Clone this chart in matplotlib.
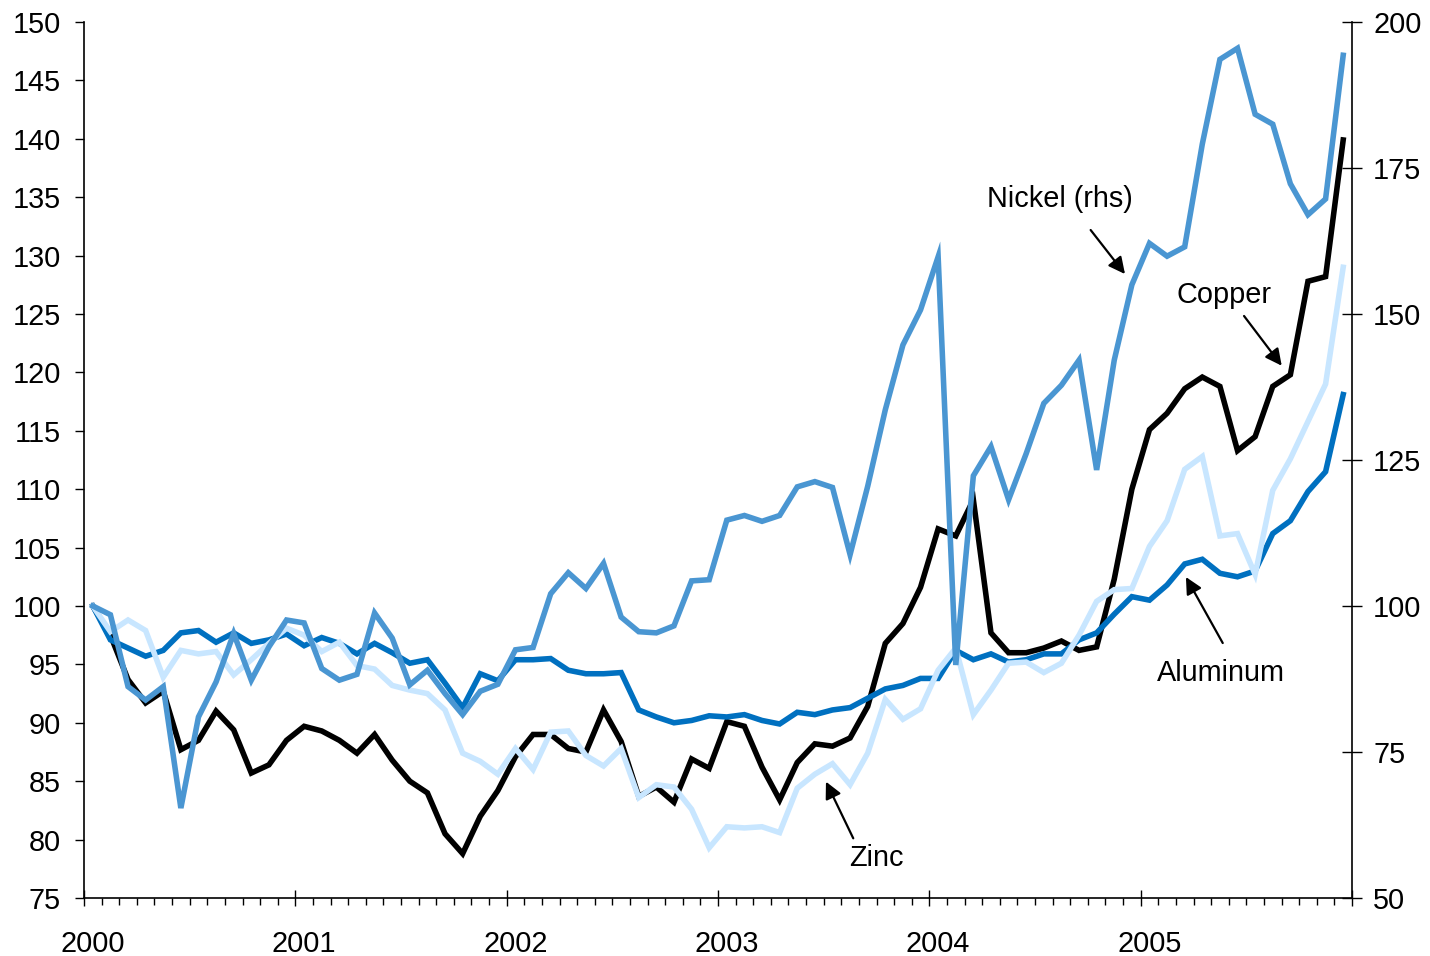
import numpy as np
import matplotlib
matplotlib.use("Agg")
import matplotlib.pyplot as plt
from matplotlib.ticker import MultipleLocator, FixedLocator, NullFormatter

plt.rcParams["font.family"] = ["Liberation Sans", "DejaVu Sans"]

# Monthly metal price indices, Jan 2000 = 100 (Nickel on the right-hand scale)
years = ["2000", "2001", "2002", "2003", "2004", "2005"]

copper = [
    100.0, 97.5, 93.7, 91.7, 92.7, 87.7, 88.5, 91.0, 89.4, 85.7, 86.4, 88.5,
    89.7, 89.3, 88.5, 87.4, 89.0, 86.8, 85.0, 84.0, 80.5, 78.8, 82.0, 84.2,
    87.1, 89.0, 89.0, 87.8, 87.5, 91.1, 88.4, 83.7, 84.5, 83.2, 86.9, 86.1,
    90.1, 89.7, 86.2, 83.4, 86.6, 88.2, 88.0, 88.7, 91.4, 96.8, 98.5, 101.6,
    106.6, 106.0, 109.1, 97.7, 96.0, 96.0, 96.4, 97.0, 96.2, 96.5, 102.3, 110.0,
    115.1, 116.5, 118.6, 119.6, 118.8, 113.3, 114.5, 118.8, 119.8, 127.8, 128.2, 139.9,
]

aluminum = [
    100.0, 97.1, 96.4, 95.7, 96.2, 97.7, 97.9, 96.9, 97.7, 96.8, 97.1, 97.6,
    96.6, 97.3, 96.8, 95.9, 96.8, 96.0, 95.1, 95.4, 93.4, 91.3, 94.2, 93.6,
    95.4, 95.4, 95.5, 94.5, 94.2, 94.2, 94.3, 91.1, 90.5, 90.0, 90.2, 90.6,
    90.5, 90.7, 90.2, 89.9, 90.9, 90.7, 91.1, 91.3, 92.1, 92.9, 93.2, 93.8,
    93.8, 96.2, 95.4, 95.9, 95.2, 95.4, 95.9, 95.9, 97.1, 97.7, 99.3, 100.8,
    100.5, 101.8, 103.6, 104.0, 102.8, 102.5, 103.0, 106.2, 107.3, 109.8, 111.5, 118.1,
]

zinc = [
    100.0, 97.8, 98.8, 97.9, 93.9, 96.2, 95.9, 96.1, 94.1, 95.4, 96.8, 98.1,
    97.5, 96.1, 96.9, 94.9, 94.6, 93.2, 92.8, 92.5, 91.1, 87.4, 86.7, 85.6,
    87.8, 86.0, 89.2, 89.3, 87.2, 86.3, 87.8, 83.6, 84.7, 84.5, 82.6, 79.3,
    81.1, 81.0, 81.1, 80.6, 84.4, 85.6, 86.5, 84.7, 87.4, 92.0, 90.3, 91.2,
    94.5, 96.4, 90.7, 92.8, 95.1, 95.2, 94.3, 95.1, 97.5, 100.4, 101.4, 101.5,
    105.1, 107.3, 111.7, 112.8, 106.0, 106.2, 102.7, 109.9, 112.6, 115.8, 119.0, 129.0,
]

nickel = [
    100.0, 98.5, 86.2, 83.9, 86.2, 65.4, 81.0, 87.0, 95.3, 87.3, 93.0, 97.6,
    97.1, 89.3, 87.3, 88.3, 98.8, 94.5, 86.5, 89.0, 85.0, 81.4, 85.4, 86.6,
    92.5, 92.9, 102.1, 105.7, 103.0, 107.3, 98.1, 95.6, 95.4, 96.6, 104.3, 104.5,
    114.7, 115.5, 114.5, 115.5, 120.4, 121.3, 120.3, 108.8, 120.5, 133.6, 144.7, 150.7,
    159.8, 89.9, 122.3, 127.3, 118.2, 126.1, 134.7, 137.8, 142.1, 123.3, 142.1, 155.0,
    162.1, 159.9, 161.5, 179.1, 193.6, 195.5, 184.2, 182.5, 172.3, 167.0, 169.7, 194.3,
]

n_months = len(copper)
x = np.arange(n_months) + 0.5  # each month plotted in the middle of its slot

C_COPPER = "#000000"
C_ALUM = "#0070C0"
C_ZINC = "#C8E6FF"
C_NICKEL = "#4A96D2"
LW = 4.0
FS = 20.8

fig = plt.figure(figsize=(14.30, 9.56), dpi=100)
ax = fig.add_axes([84 / 1430, 1 - 898 / 956, (1352 - 84) / 1430, 876 / 956])
ax2 = ax.twinx()

ax.plot(x, copper, color=C_COPPER, lw=LW, zorder=2, solid_joinstyle="miter")
ax.plot(x, aluminum, color=C_ALUM, lw=LW, zorder=3, solid_joinstyle="miter")
ax.plot(x, zinc, color=C_ZINC, lw=LW, zorder=4, solid_joinstyle="miter")
ax2.plot(x, nickel, color=C_NICKEL, lw=LW, zorder=5, solid_joinstyle="miter")

ax.set_xlim(0, n_months)
ax.set_ylim(75, 150)
ax2.set_ylim(50, 200)
ax.yaxis.set_major_locator(MultipleLocator(5))
ax2.yaxis.set_major_locator(MultipleLocator(25))

# x axis: year boundaries as major ticks, months as minor ticks
ax.xaxis.set_major_locator(FixedLocator(np.arange(0, n_months + 1, 12)))
ax.xaxis.set_minor_locator(FixedLocator(np.arange(0, n_months + 1, 1)))
ax.xaxis.set_major_formatter(NullFormatter())
ax.tick_params(axis="x", which="major", direction="inout", length=11.5, width=1.0, color="black")
ax.tick_params(axis="x", which="minor", direction="out", length=5.0, width=1.0, color="black")
for k, yr in enumerate(years):
    ax.text(12 * k + 0.5, -(952 - 898) / 876, yr, transform=ax.get_xaxis_transform(),
            ha="center", va="baseline", fontsize=FS, color="black")

ax.tick_params(axis="y", which="major", direction="out", length=6.5, width=1.0,
               labelsize=FS, pad=10, color="black")
ax2.tick_params(axis="y", which="major", direction="inout", length=14.5, width=1.0,
                labelsize=FS, pad=8, color="black")

for a in (ax, ax2):
    a.spines["top"].set_visible(False)
    for s in ("left", "right", "bottom"):
        a.spines[s].set_linewidth(1.2)
        a.spines[s].set_color("black")
ax.spines["right"].set_visible(False)
ax2.spines["left"].set_visible(False)
ax2.spines["bottom"].set_visible(False)

# Series labels with pointer arrows (left-axis data coordinates)
arrow_kw = dict(arrowstyle="-|>,head_length=0.5,head_width=0.25", color="black",
                lw=1.6, shrinkA=0, shrinkB=0, mutation_scale=20)
labels = [
    ("Nickel (rhs)", (51.26, 134.19), (57.16, 132.19), (59.11, 128.42)),
    ("Copper", (62.05, 125.92), (65.87, 124.83), (68.01, 120.57)),
    ("Aluminum", (60.93, 93.60), (64.66, 96.83), (62.57, 102.48)),
    ("Zinc", (43.46, 77.74), (43.68, 80.11), (42.13, 84.96)),
]
for text, pos, tail, tip in labels:
    ax2.text(pos[0], 2 * pos[1] - 100, text, ha="left", va="baseline",
             fontsize=FS, color="black", zorder=10)
    ax2.annotate("", xy=(tip[0], 2 * tip[1] - 100), xytext=(tail[0], 2 * tail[1] - 100),
                 arrowprops=arrow_kw, zorder=10)

fig.savefig("out.png", dpi=100, facecolor="white")
